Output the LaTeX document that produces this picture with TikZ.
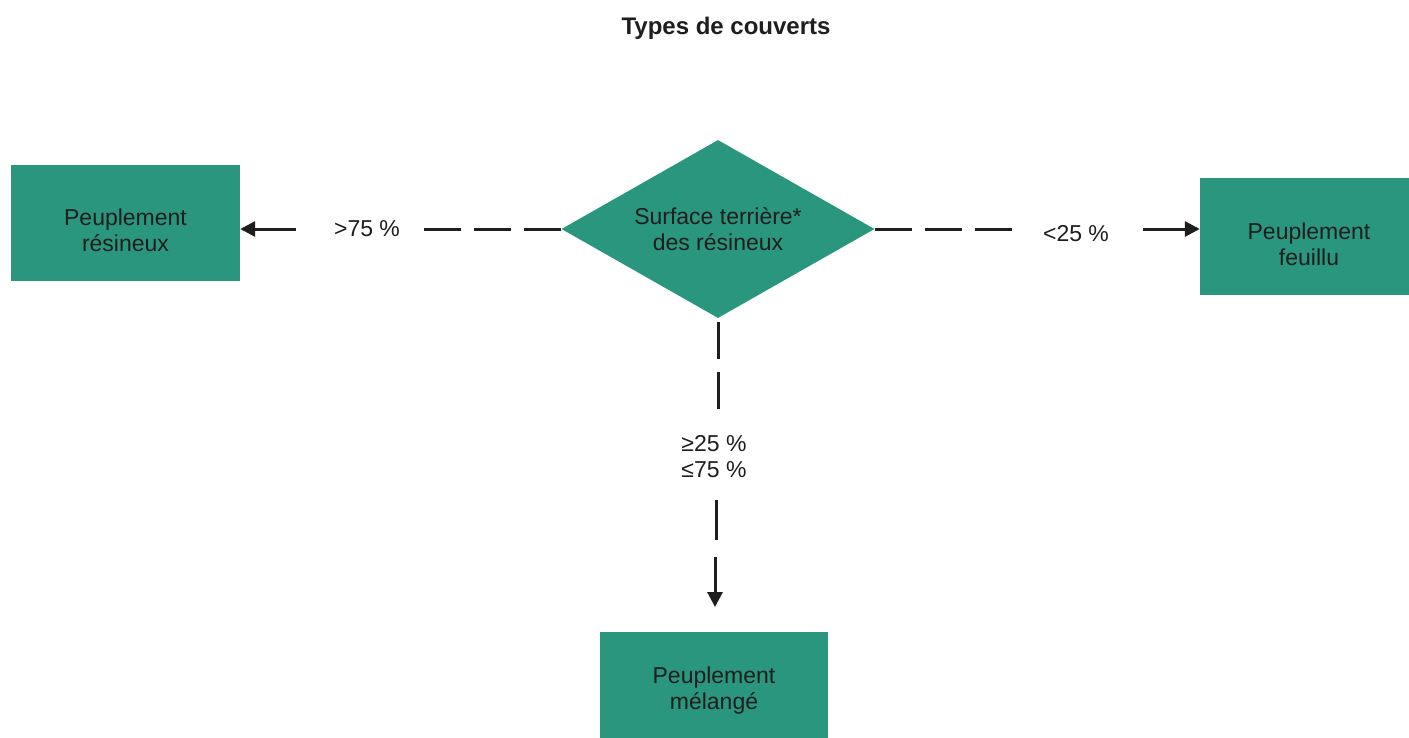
\documentclass[tikz,border=0pt]{standalone}
\usepackage{fontspec}
\setmainfont{Liberation Sans}
\usetikzlibrary{shapes.geometric,arrows.meta}
\definecolor{teal1}{HTML}{2A967D}
\definecolor{ink}{HTML}{1E1E1E}
\begin{document}
\begin{tikzpicture}[x=1pt,y=-1pt,
  boxnode/.style={fill=teal1, draw=none, minimum width=#1, minimum height=116pt,
    inner sep=0pt},
  boxtext/.style={align=center, inner sep=0pt, font=\fontsize{23}{26}\selectfont, text=ink},
  decision/.style={diamond, aspect=1.758, fill=teal1, draw=none, minimum width=313pt,
    minimum height=178pt, inner sep=0pt, align=center,
    font=\fontsize{23}{26}\selectfont, text=ink},
  lbl/.style={font=\fontsize{23}{26}\selectfont, text=ink, align=center, inner sep=0pt},
  dashline/.style={line width=3pt, ink, dash pattern=on 37pt off 13pt},
  solidline/.style={line width=3pt, ink},
  arr/.style={line width=3pt, ink, -{Triangle[length=15pt,width=15pt]}}
]
\useasboundingbox (0,0) rectangle (1409,737);
\clip (0,0) rectangle (1409,737);
\fill[white] (0,0) rectangle (1409,737);

\node[font=\bfseries\fontsize{24}{28}\selectfont, text=ink] (title) at (726,28) {Types de couverts};

\node[decision] (d) at (718,229) {Surface terrière*\\des résineux};

\node[boxnode=229pt] (boxL) at (125.5,223) {};
\node[boxtext] (tL) at ([yshift=-7pt]boxL.center) {Peuplement\\résineux};
\node[boxnode=218pt, minimum height=117pt] (boxR) at (1309,236.5) {};
\node[boxtext] (tR) at ([yshift=-8pt]boxR.center) {Peuplement\\feuillu};
\node[boxnode=228pt] (boxM) at (714,690) {};
\node[boxtext] (tM) at ([yshift=-1pt]boxM.center) {Peuplement\\mélangé};

% left branch
\coordinate (cL1) at (420,229);
\coordinate (cL2) at (296,229);
\node[lbl] (lblL) at (367,229) {>75 \%};
\draw[dashline] (d.west) -- (cL1);
\draw[arr] (cL2) -- (cL2 -| boxL.east);

% right branch
\coordinate (cR1) at (1020,229);
\coordinate (cR2) at (1143,229);
\node[lbl] (lblR) at (1076,234) {<25 \%};
\draw[dashline] (d.east) -- (cR1);
\draw[arr] (cR2) -- (cR2 -| boxR.west);

% vertical branch
\coordinate (cV1) at (718,412);
\coordinate (cV2) at (716,500);
\coordinate (cV3) at (716,540);
\coordinate (cV4) at (715,557);
\coordinate (cV5) at (715,607);
\node[lbl] (lblV) at (714,457) {≥25 \%\\≤75 \%};
\draw[dashline, shorten <=4pt] (d.south) -- (cV1);
\draw[solidline] (cV2) -- (cV3);
\draw[arr] (cV4) -- (cV5);
\end{tikzpicture}
\end{document}
